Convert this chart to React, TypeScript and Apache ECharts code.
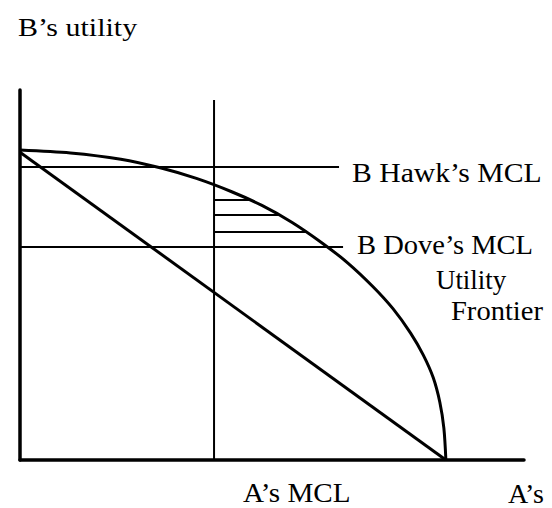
import React, { useEffect, useRef } from "react";
import * as echarts from "echarts";

// Data (axis units: 0..100 on both axes)
const frontier: [number, number][] = [
  [0, 83.8], [10, 83.0], [20, 81.3], [28, 78.9], [35, 76.1], [42, 72.5],
  [48, 68.8], [54, 64.2], [60, 58.6], [65, 53.3], [70, 46.9], [74, 40.9],
  [77.5, 34.3], [80, 28.4], [82, 22.2], [83.3, 15.6], [84.1, 8.6], [84.5, 0],
];
const diagonal: [number, number][] = [[0, 83.2], [84.5, 0]];
const hawkMCL: [number, number][] = [[0, 79.2], [63.3, 79.2]];
const doveMCL: [number, number][] = [[0, 57.6], [64.1, 57.6]];
const aMCL: [number, number][] = [[38.5, 0], [38.5, 97.3]];
const shading: [number, number][][] = [
  [[38.5, 70.3], [45.6, 70.3]],
  [[38.5, 66.2], [51.6, 66.2]],
  [[38.5, 61.6], [56.9, 61.6]],
];

const FONT = "'Liberation Serif', 'Times New Roman', serif";

function seg(data: [number, number][], width: number, smooth: number | boolean = false) {
  return {
    type: "line",
    data,
    showSymbol: false,
    smooth,
    silent: true,
    lineStyle: { color: "#000", width },
  };
}

export default function App() {
  const ref = useRef<HTMLDivElement>(null);
  useEffect(() => {
    if (!ref.current) return;
    const chart = echarts.init(ref.current, undefined, { renderer: "svg" });
    const txt = (text: string, x: number, y: number, size: number, sx = 1) => ({
      type: "text",
      x,
      y,
      scaleX: sx,
      style: { text, fill: "#000", font: `${size}px ${FONT}`, verticalAlign: "middle", align: "left" },
    });
    chart.setOption({
      animation: false,
      backgroundColor: "#fff",
      grid: { left: 20, top: 90, width: 504, height: 370, containLabel: false },
      xAxis: {
        type: "value", min: 0, max: 100,
        axisLine: { show: true, lineStyle: { color: "#000", width: 3.5 } },
        axisTick: { show: false }, axisLabel: { show: false }, splitLine: { show: false },
      },
      yAxis: {
        type: "value", min: 0, max: 100,
        axisLine: { show: true, lineStyle: { color: "#000", width: 3.5 } },
        axisTick: { show: false }, axisLabel: { show: false }, splitLine: { show: false },
      },
      series: [
        seg(aMCL, 2),
        seg(hawkMCL, 2),
        seg(doveMCL, 2),
        ...shading.map((s) => seg(s, 2)),
        seg(diagonal, 3),
        seg(frontier, 3, 0.3),
      ],
      graphic: [
        txt("B’s utility", 18, 27, 25, 1.2),
        txt("B Hawk’s MCL", 352, 172, 28, 1.06),
        txt("B Dove’s MCL", 357, 245, 28, 1.02),
        txt("Utility", 436, 280, 28, 0.96),
        txt("Frontier", 451, 311, 28, 1.02),
        txt("A’s MCL", 243, 493, 28, 1.04),
        txt("A’s", 508, 493, 28, 1.0),
      ],
    });
    return () => chart.dispose();
  }, []);
  return (
    <div
      ref={ref}
      style={{ position: "absolute", left: 0, top: 0, width: 552, height: 508, background: "#fff" }}
    />
  );
}
